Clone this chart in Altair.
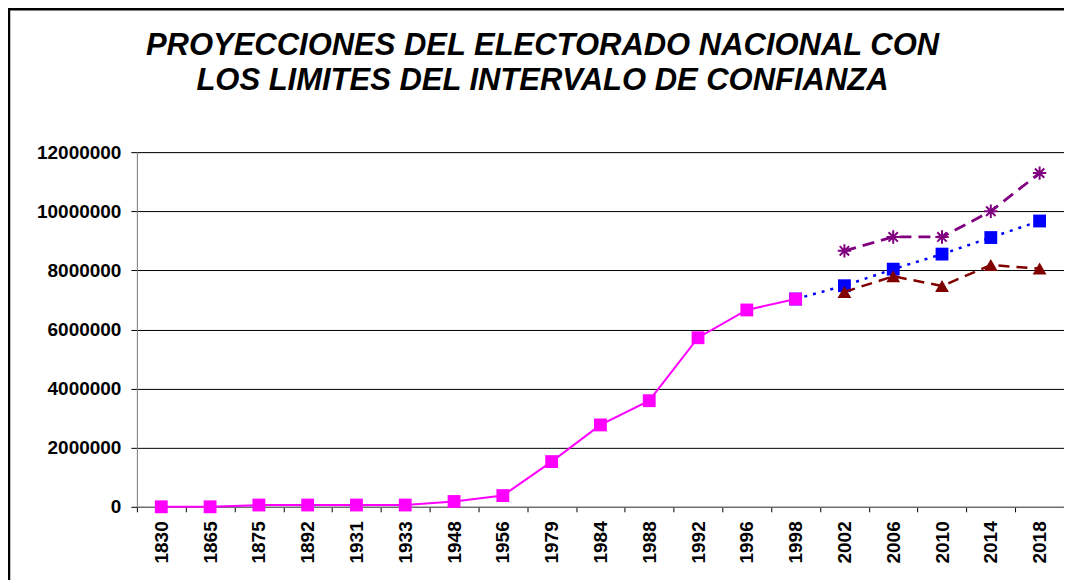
import altair as alt
import pandas as pd

years = ["1830", "1865", "1875", "1892", "1931", "1933", "1948", "1956", "1979",
         "1984", "1988", "1992", "1996", "1998", "2002", "2006", "2010", "2014", "2018"]

hist_years = years[:14]
hist_values = [0, 0, 60000, 60000, 60000, 60000, 180000, 380000, 1530000,
               2770000, 3590000, 5720000, 6660000, 7030000]

proj_years = years[13:]
proj_values = [7030000, 7480000, 8040000, 8550000, 9110000, 9670000]

ci_years = years[14:]
upper_values = [8660000, 9130000, 9130000, 10000000, 11290000]
lower_values = [7270000, 7800000, 7470000, 8180000, 8060000]

title_lines = ["PROYECCIONES DEL ELECTORADO NACIONAL CON",
               "LOS LIMITES DEL INTERVALO DE CONFIANZA"]

FONT = "Liberation Sans"

hist = pd.DataFrame({"year": hist_years, "value": hist_values})
proj = pd.DataFrame({"year": proj_years, "value": proj_values})
upper = pd.DataFrame({"year": ci_years, "value": upper_values})
lower = pd.DataFrame({"year": ci_years, "value": lower_values})

x_enc = alt.X(
    "year:N",
    sort=years,
    scale=alt.Scale(domain=years, type="band", paddingInner=0, paddingOuter=0),
    bandPosition=0.5,
    axis=alt.Axis(
        title=None,
        labelAngle=270,
        labelAlign="right",
        labelBaseline="middle",
        labelFont=FONT,
        labelFontSize=19,
        labelFontWeight="bold",
        labelColor="#000000",
        labelPadding=9,
        tickBand="extent",
        tickSize=5,
        tickColor="#000000",
        domainColor="#808080",
        grid=False,
    ),
)
y_enc = alt.Y(
    "value:Q",
    scale=alt.Scale(domain=[0, 12000000], nice=False),
    axis=alt.Axis(
        title=None,
        values=[0, 2000000, 4000000, 6000000, 8000000, 10000000, 12000000],
        format="d",
        labelFont=FONT,
        labelFontSize=19,
        labelFontWeight="bold",
        labelColor="#000000",
        labelPadding=10,
        tickSize=6,
        tickColor="#000000",
        domainColor="#808080",
        grid=True,
        gridColor="#000000",
        gridWidth=1,
    ),
)

asterisk = "M-1,0L1,0M0,-1L0,1M-0.7,-0.7L0.7,0.7M-0.7,0.7L0.7,-0.7"

proj_line = alt.Chart(proj).mark_line(color="#0000FF", strokeWidth=2.5, strokeDash=[3, 6]).encode(x=x_enc, y=y_enc)
proj_pts = alt.Chart(proj).mark_point(shape="square", filled=True, size=165, color="#0000FF", opacity=1).encode(x=x_enc, y=y_enc)

up_line = alt.Chart(upper).mark_line(color="#800080", strokeWidth=2.8, strokeDash=[12, 7]).encode(x=x_enc, y=y_enc)
up_pts = alt.Chart(upper).mark_point(shape=asterisk, filled=False, size=180, color="#800080", strokeWidth=2, opacity=1).encode(x=x_enc, y=y_enc)

low_line = alt.Chart(lower).mark_line(color="#800000", strokeWidth=2.5, strokeDash=[11, 7]).encode(x=x_enc, y=y_enc)
low_pts = alt.Chart(lower).mark_point(shape="triangle-up", filled=True, size=190, color="#800000", opacity=1).encode(x=x_enc, y=y_enc)

hist_line = alt.Chart(hist).mark_line(color="#FF00FF", strokeWidth=2).encode(x=x_enc, y=y_enc)
hist_pts = alt.Chart(hist).mark_point(shape="square", filled=True, size=165, color="#FF00FF", opacity=1).encode(x=x_enc, y=y_enc)

border = alt.Chart(pd.DataFrame({"b": [0]})).mark_rect(
    fill=None, stroke="#000000", strokeWidth=2.5
).encode(x=alt.value(-128), x2=alt.value(3000), y=alt.value(-143), y2=alt.value(3000))

title = alt.Chart(pd.DataFrame({"t": [title_lines]})).mark_text(
    font=FONT,
    fontSize=31,
    fontWeight="bold",
    fontStyle="italic",
    color="#000000",
    align="center",
    baseline="alphabetic",
    lineHeight=35,
).encode(text="t", x=alt.value(406), y=alt.value(-97))

chart = alt.layer(
    border, title, proj_line, proj_pts, up_line, up_pts, low_line, low_pts, hist_line, hist_pts
).properties(
    width=928,
    height=355,
    autosize=alt.AutoSizeParams(type="none"),
    padding={"left": 129, "top": 144, "right": 0, "bottom": 73},
).configure_view(stroke=None).configure(background="#FFFFFF")

chart.save("out.html", embed_options={"renderer": "svg", "actions": False})
